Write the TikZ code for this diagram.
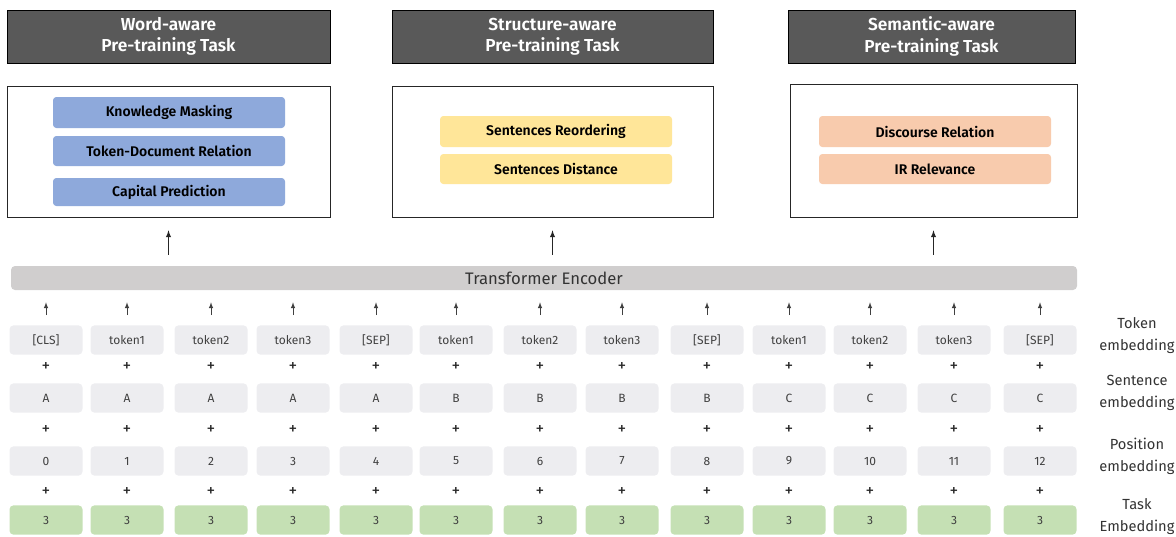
\documentclass[tikz,border=0pt]{standalone}
\usepackage{fontspec}
\IfFontExistsTF{Fira Sans SemiBold}
  {\setmainfont{Fira Sans}[BoldFont={Fira Sans SemiBold}]}
  {\setmainfont{Fira Sans}}
\usetikzlibrary{arrows}

\definecolor{headgray}{HTML}{595959}
\definecolor{wordblue}{HTML}{8EA9DB}
\definecolor{structyellow}{HTML}{FFE699}
\definecolor{semorange}{HTML}{F8CBAD}
\definecolor{encgray}{HTML}{D0CECE}
\definecolor{embgray}{HTML}{EDEDF0}
\definecolor{taskgreen}{HTML}{C5E0B4}
\definecolor{txtgray}{HTML}{404040}

\tikzset{
  header/.style={draw=black, fill=headgray, text=white, align=center, inner sep=0pt,
    minimum height=39.75pt, font=\bfseries\fontsize{13}{16}\selectfont},
  taskbox/.style={draw=black!85, fill=white, inner sep=0pt},
  subtask/.style={rounded corners=2.5pt, inner sep=0pt, minimum width=174pt,
    font=\fontsize{10.5}{11}\selectfont\bfseries},
  emb/.style={fill=embgray, rounded corners=3pt, inner sep=0pt, minimum width=54.75pt,
    minimum height=22pt, text=txtgray, font=\fontsize{9}{10}\selectfont},
  plus/.style={text=black!85, inner sep=0pt, font=\fontsize{13}{13}\selectfont\addfontfeature{FakeBold=0}},
  rowlabel/.style={align=center, text=black!80, font=\fontsize{11}{16.5}\selectfont},
}

\begin{document}
\begin{tikzpicture}[x=0.75pt,y=-0.75pt]
\useasboundingbox (0,0) rectangle (1176,536);

\node[header, minimum width=242.25pt] (hw) at (168.5,36.5) {Word-aware\\Pre-training Task};
\node[header, minimum width=240.75pt] (hs) at (552.5,36.5) {Structure-aware\\Pre-training Task};
\node[header, minimum width=215.25pt] (hm) at (931.5,36.5) {Semantic-aware\\Pre-training Task};

\node[taskbox, minimum width=242.25pt, minimum height=98.25pt] (bw) at (168.5,151.5) {};
\node[taskbox, minimum width=240.75pt, minimum height=98.25pt] (bs) at (552.5,151.5) {};
\node[taskbox, minimum width=215.25pt, minimum height=99.75pt] (bm) at (933.5,150.5) {};

\node[subtask, fill=wordblue, minimum height=23.25pt] (km) at (169,112.5) {Knowledge Masking};
\node[subtask, fill=wordblue, minimum height=22.5pt] (tdr) at (169,151) {Token-Document Relation};
\node[subtask, fill=wordblue, minimum height=21pt] (cp) at (169,192) {Capital Prediction};

\node[subtask, fill=structyellow, minimum height=23.25pt] (sr) at (556,131.5) {Sentences Reordering};
\node[subtask, fill=structyellow, minimum height=22.5pt] (sd) at (556,169) {Sentences Distance};

\node[subtask, fill=semorange, minimum height=23.25pt] (dr) at (935,131.5) {Discourse Relation};
\node[subtask, fill=semorange, minimum height=22.5pt] (ir) at (935,169) {IR Relevance};

\node[fill=encgray, rounded corners=3pt, minimum width=799.5pt, minimum height=18pt, inner sep=0pt,
  text=black!80, font=\fontsize{12.5}{13}\selectfont] (enc) at (544,278) {Transformer Encoder};

\draw[line width=0.8pt, black!85, -latex, shorten <=8.25pt, shorten >=9.75pt] (enc.north -| bw.south) -- (bw.south);
\draw[line width=0.8pt, black!85, -latex, shorten <=8.25pt, shorten >=9.75pt] (enc.north -| bs.south) -- (bs.south);
\draw[line width=0.8pt, black!85, -latex, shorten <=8.25pt, shorten >=9.75pt] (enc.north -| bm.south) -- (bm.south);

\foreach \x/\tk/\sg/\ps [count=\i] in {46/{[CLS]}/A/0, 127/token1/A/1, 211/token2/A/2,
    293/token3/A/3, 376/{[SEP]}/A/4, 456/token1/B/5, 540/token2/B/6, 622/token3/B/7,
    707/{[SEP]}/B/8, 789/token1/C/9, 870/token2/C/10, 954/token3/C/11, 1040/{[SEP]}/C/12}
{
  \node[emb] (tok\i) at (\x,340) {\tk};
  \node[emb] (sen\i) at (\x,398) {\sg};
  \node[emb] (pos\i) at (\x,461) {\ps};
  \node[emb, fill=taskgreen] (task\i) at (\x,520) {3};
  \node[plus] (pa\i) at (\x,367) {+};
  \node[plus] (pb\i) at (\x,430) {+};
  \node[plus] (pc\i) at (\x,492) {+};
  \draw[txtgray, line width=0.5pt, -latex, shorten <=7.5pt, shorten >=9pt] (tok\i.north) -- (enc.south -| tok\i.north);
}

\node[rowlabel] (ltok) at (1137,336) {Token\\embedding};
\node[rowlabel] (lsen) at (1137,393) {Sentence\\embedding};
\node[rowlabel] (lpos) at (1137,456) {Position\\embedding};
\node[rowlabel] (ltask) at (1137,517) {Task\\Embedding};

\end{tikzpicture}
\end{document}
